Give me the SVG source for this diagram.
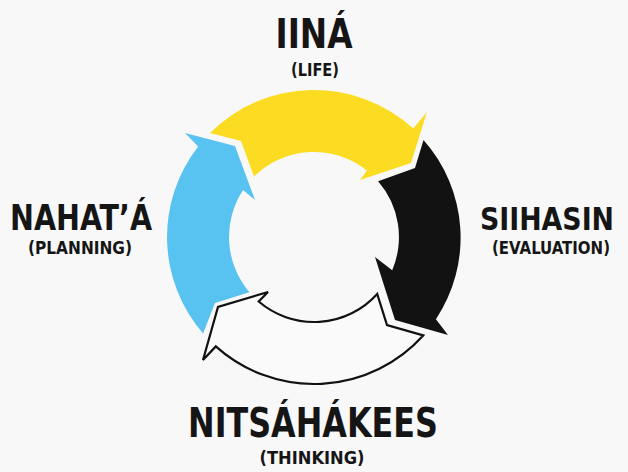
<svg xmlns="http://www.w3.org/2000/svg" width="628" height="472" viewBox="0 0 628 472">
<style>
.big{font-family:"Liberation Sans Narrow","DejaVu Sans Condensed","Liberation Sans",sans-serif;font-stretch:condensed;font-weight:bold;fill:#151515;text-anchor:middle}
.small{font-family:"Liberation Sans Narrow","DejaVu Sans Condensed","Liberation Sans",sans-serif;font-stretch:condensed;font-weight:bold;fill:#151515;text-anchor:middle}
.arrow{stroke-linejoin:miter}
</style>
<rect width="628" height="472" fill="#f8f8f8"/>
<g id="connectors">
<path id="yellow-arrow" class="arrow" fill="#fcdc22" d="M 210,133 A 147 147 0 0 1 413.3,128.6 L 427,112 L 411,163 L 360,180 L 366.9,170.5 A 85 85 0 0 0 254,176.5 L 241,141 Z"/>
<path id="black-arrow" class="arrow" fill="#121212" d="M 423.5,140 A 147 147 0 0 1 435.9,319.2 L 448,335 L 395,320 L 375,257 L 392.2,270.2 A 85 85 0 0 0 378.1,181.2 L 415,168 Z"/>
<path id="white-arrow" class="arrow" fill="#fafafa" stroke="#111" stroke-width="2.2" d="M 423.2,335.4 A 147 147 0 0 1 215.8,346.4 L 203,360 L 218,307 L 268,292 L 258.7,301.5 A 85 85 0 0 0 377.2,293.9 L 387,325 Z"/>
<path id="blue-arrow" class="arrow" fill="#58c2f0" d="M 203.1,333.4 A 147 147 0 0 1 198.2,146.5 L 185,133 L 235,146 L 255,200 L 243.1,190.1 A 85 85 0 0 0 249.4,292.2 L 215,303 Z"/>
</g>
<g id="node-life">
<text class="big" x="314" y="48" font-size="40" textLength="77" lengthAdjust="spacingAndGlyphs">IINÁ</text>
<text class="small" x="315" y="76" font-size="18" textLength="48" lengthAdjust="spacingAndGlyphs">(LIFE)</text>
</g>
<g id="node-planning">
<text class="big" x="81" y="230" font-size="35" textLength="142" lengthAdjust="spacingAndGlyphs">NAHAT’Á</text>
<text class="small" x="80" y="254" font-size="17" textLength="104" lengthAdjust="spacingAndGlyphs">(PLANNING)</text>
</g>
<g id="node-evaluation">
<text class="big" x="547" y="230" font-size="32" textLength="134" lengthAdjust="spacingAndGlyphs">SIIHASIN</text>
<text class="small" x="551" y="254" font-size="17" textLength="118" lengthAdjust="spacingAndGlyphs">(EVALUATION)</text>
</g>
<g id="node-thinking">
<text class="big" x="313" y="437" font-size="40" textLength="250" lengthAdjust="spacingAndGlyphs">NITSÁHÁKEES</text>
<text class="small" x="312" y="464" font-size="18" textLength="105" lengthAdjust="spacingAndGlyphs">(THINKING)</text>
</g>
</svg>
